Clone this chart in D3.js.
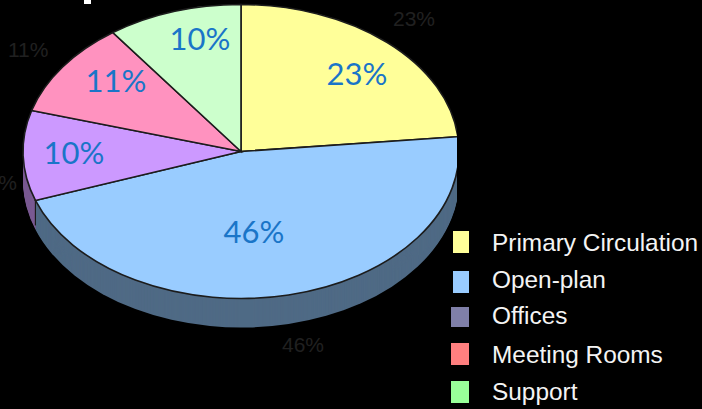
<!DOCTYPE html>
<html>
<head>
<meta charset="utf-8">
<script src="https://cdn.jsdelivr.net/npm/d3@7"></script>
<style>
  html, body { margin: 0; padding: 0; background: #000; }
  svg { display: block; }
  .legend-text { font-family: "Liberation Sans", Arial, sans-serif; font-size: 24.4px; fill: #f4f4f4; }
  .slice-label { font-family: Lato, "Open Sans", sans-serif; font-size: 31px; fill: #1a75c8; text-anchor: middle; }
  .ghost-label { font-family: "Liberation Sans", Arial, sans-serif; font-size: 21px; fill: #202020; }
</style>
</head>
<body>
<svg width="702" height="409"></svg>
<script>
// data, shares estimated from the slice edges (the labels show them rounded)
const categories = ["Primary Circulation", "Open-plan", "Offices", "Meeting Rooms", "Support"];
const values = [23.4, 46.2, 9.9, 10.5, 10.0];
const topColors = ["#ffff99", "#99ccff", "#cc99ff", "#ff92bf", "#ccffcc"];
const sideColors = [null, "#4f6a85", "#7a5a92", null, null]; // only the sides that show
const legendColors = ["#ffff99", "#99ccff", "#7f7fa8", "#ff7f7f", "#99ff99"];

// layout
const width = 702, height = 409;
const cx = 241, cy = 151.5;
const rx = 218, ry = 147, depth = 29;
const clipRight = 457; // picture is cropped here
const labelX = [357, 254, 74, 116, 200];
const labelY = [85, 243, 164, 92, 50];
const ghostX = [393, 282, -25, 8];
const ghostY = [26, 352, 190, 57];
const legendTop = [231, 271, 307, 343, 381];
const legendBottom = [253, 293, 327, 365, 403];
const legendLeft = [453, 453, 451, 451, 451];
const legendBase = [251, 288, 324, 363, 400];

const svg = d3.select("svg");
const pct = d => Math.round(d) + "%";

svg.append("defs").append("clipPath").attr("id", "crop")
    .append("rect").attr("width", clipRight).attr("height", height);

const pie = d3.pie().sort(null).value(d => d);
const arcs = pie(values);
const arc = d3.arc().innerRadius(0).outerRadius(ry);
const sx = rx / ry;

const chart = svg.append("g").attr("clip-path", "url(#crop)");

// side wall, stacked copies of the slices going down
const sides = arcs.map((d, i) => i).filter(i => sideColors[i]).sort((a, b) => b - a);
sides.forEach(i => {
    for (let k = depth; k >= 1; k--) {
        chart.append("path")
            .attr("transform", `translate(${cx},${cy + k}) scale(${sx},1)`)
            .attr("d", arc(arcs[i]))
            .attr("fill", sideColors[i]);
    }
});

// dark seam where the open-plan wall starts
const seamX = cx + rx * Math.sin(arcs[1].endAngle);
const seamY = cy - ry * Math.cos(arcs[1].endAngle);
chart.append("line")
    .attr("x1", seamX).attr("y1", seamY)
    .attr("x2", seamX).attr("y2", seamY + depth - 4)
    .attr("stroke", "#1c1c1c")
    .attr("stroke-width", 1.2);

// top surface
chart.selectAll(".slice")
    .data(arcs)
    .enter()
    .append("path")
    .attr("class", "slice")
    .attr("transform", `translate(${cx},${cy}) scale(${sx},1)`)
    .attr("d", arc)
    .attr("fill", (d, i) => topColors[i])
    .attr("stroke", "#1c1c1c")
    .attr("stroke-width", 1.6)
    .attr("vector-effect", "non-scaling-stroke");

// labels on the slices
svg.selectAll(".slice-label")
    .data(values)
    .enter()
    .append("text")
    .attr("class", "slice-label")
    .attr("x", (d, i) => labelX[i])
    .attr("y", (d, i) => labelY[i])
    .text(pct);

// old chart labels, barely visible on the black
svg.selectAll(".ghost-label")
    .data(values.slice(0, ghostX.length))
    .enter()
    .append("text")
    .attr("class", "ghost-label")
    .attr("x", (d, i) => ghostX[i])
    .attr("y", (d, i) => ghostY[i])
    .text(pct);

// legend
svg.selectAll(".legend-box")
    .data(categories)
    .enter()
    .append("rect")
    .attr("class", "legend-box")
    .attr("x", (d, i) => legendLeft[i])
    .attr("y", (d, i) => legendTop[i])
    .attr("width", (d, i) => 469 - legendLeft[i])
    .attr("height", (d, i) => legendBottom[i] - legendTop[i])
    .attr("fill", (d, i) => legendColors[i]);

svg.selectAll(".legend-text")
    .data(categories)
    .enter()
    .append("text")
    .attr("class", "legend-text")
    .attr("x", 492)
    .attr("y", (d, i) => legendBase[i])
    .text(d => d);

// bit of the cropped title at the top edge
svg.append("rect").attr("x", 84).attr("y", 0).attr("width", 7).attr("height", 4).attr("fill", "#fff");
</script>
</body>
</html>
